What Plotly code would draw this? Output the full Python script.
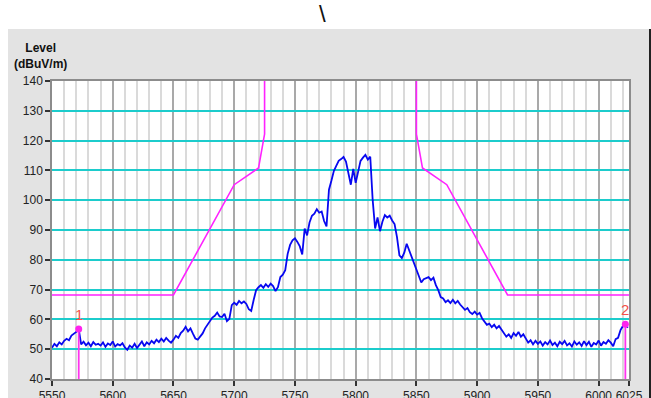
import plotly.graph_objects as go

# ---------------- data ----------------
FREQ_START = 5550
FREQ_STEP = 2
LEVEL = [
    # 5550-5568
    50.5, 51.8, 51.0, 52.3, 51.6, 52.8, 53.5, 53.0, 54.6, 55.2,
    # 5570-5588
    55.8, 56.8, 51.6, 52.5, 51.3, 52.2, 51.0, 52.4, 51.5, 51.8,
    # 5590-5608
    51.2, 52.3, 50.8, 51.9, 51.4, 52.6, 50.9, 51.7, 51.3, 52.0,
    # 5610-5628
    50.6, 49.8, 51.2, 50.5, 51.8, 50.4, 51.5, 52.6, 51.0, 52.3,
    # 5630-5648
    51.6, 52.8, 52.0, 53.2, 52.4, 53.5, 52.6, 53.8, 52.9, 52.2,
    # 5650-5668
    53.2, 54.5, 53.8, 55.4, 56.2, 57.5, 56.0, 57.0, 55.2, 53.6,
    # 5670-5688
    53.2, 54.4, 55.3, 57.0, 58.2, 59.8, 60.6, 61.2, 62.3, 61.0,
    # 5690-5708
    60.8, 61.9, 59.4, 60.2, 64.8, 65.6, 64.9, 66.2, 65.4, 66.0,
    # 5710-5728
    65.2, 63.4, 62.8, 66.5, 69.8, 70.8, 71.5, 70.6, 71.8, 70.9,
    # 5730-5748
    72.0, 71.2, 69.5, 70.8, 74.2, 75.0, 76.5, 82.0, 85.0, 86.5,
    # 5750-5768
    87.2, 86.0, 84.5, 81.8, 90.5, 88.2, 92.5, 94.8, 95.5, 97.0,
    # 5770-5788
    95.8, 96.2, 93.0, 91.2, 103.5, 106.5, 109.8, 111.5, 113.2, 113.8,
    # 5790-5808
    114.5, 113.0, 108.5, 105.2, 110.5, 105.8, 109.5, 113.2, 114.3, 115.2,
    # 5810-5828
    113.6, 114.6, 100.0, 90.5, 94.2, 89.6, 92.8, 95.0, 94.2, 94.8,
    # 5830-5848
    93.2, 92.0, 87.6, 81.5, 80.6, 82.4, 85.4, 83.2, 81.0, 79.5,
    # 5850-5868
    77.0, 75.0, 72.4, 73.5, 73.8, 74.2, 73.2, 74.0, 71.5, 69.8,
    # 5870-5888
    67.5, 67.0, 65.8, 66.4, 65.5, 66.6, 65.4, 66.2, 65.0, 64.2,
    # 5890-5908
    63.2, 63.8, 62.4, 61.8, 62.6, 61.6, 62.2, 60.4, 59.4, 58.2,
    # 5910-5928
    58.6, 57.4, 58.2, 57.0, 57.8, 56.6, 55.6, 54.2, 55.0, 53.8,
    # 5930-5948
    55.4, 54.5, 55.8, 54.2, 55.0, 53.6, 52.2, 53.0, 51.6, 52.8,
    # 5950-5968
    51.8, 52.6, 51.2, 52.4, 51.6, 52.9, 51.4, 52.2, 51.0, 52.5,
    # 5970-5988
    51.7, 52.8, 51.3, 52.0, 50.9, 52.6, 51.5, 52.3, 51.1, 52.7,
    # 5990-6008
    51.4, 52.5, 50.8, 52.1, 51.6, 52.9, 51.2, 52.4, 51.8, 53.0,
    # 6010-6024
    52.2, 51.0, 53.4, 53.8, 56.4, 57.8, 58.4, 57.2,
]
FREQ = [FREQ_START + FREQ_STEP * i for i in range(len(LEVEL))]

LIMIT_FREQ = [5550, 5650, 5700, 5720, 5725, 5725, None, 5850, 5850, 5855, 5875, 5925, 6025]
LIMIT_LEVEL = [68.2, 68.2, 105.2, 110.8, 122.2, 145, None, 145, 122.2, 110.8, 105.2, 68.2, 68.2]

MARKER_FREQ = [5572, 6022]
MARKER_LEVEL = [56.8, 58.4]
MARKER_LABELS = ["1", "2"]

X_TICKS = [5550, 5600, 5650, 5700, 5750, 5800, 5850, 5900, 5950, 6000, 6025]
Y_TICKS = [40, 50, 60, 70, 80, 90, 100, 110, 120, 130, 140]

# ---------------- layout helpers (pixel -> paper) ----------------
W, H = 651, 398
L, R, T, B = 52, 629, 81, 379


def px(x):
    return (x - L) / (R - L)


def py(y):
    return (B - y) / (B - T)


fig = go.Figure()

# limit line
fig.add_trace(go.Scatter(x=LIMIT_FREQ, y=LIMIT_LEVEL, mode="lines",
                         line=dict(color="#ff22ff", width=1.6),
                         connectgaps=False, hoverinfo="skip"))

# spectrum trace
fig.add_trace(go.Scatter(x=FREQ, y=LEVEL, mode="lines",
                         line=dict(color="#0808f0", width=1.8),
                         hoverinfo="skip"))

# markers: vertical drop lines + dots + labels
for f, lv, lab in zip(MARKER_FREQ, MARKER_LEVEL, MARKER_LABELS):
    fig.add_trace(go.Scatter(x=[f, f], y=[40, lv], mode="lines",
                             line=dict(color="#ff33ee", width=1.8),
                             hoverinfo="skip"))
    fig.add_trace(go.Scatter(x=[f], y=[lv], mode="markers",
                             marker=dict(color="#ff22ee", size=7),
                             hoverinfo="skip"))
    fig.add_annotation(x=f, y=lv + 4.8, text=lab, showarrow=False,
                       font=dict(family="Liberation Sans, Arial", size=15, color="#f5504a"))

# backgrounds
shapes = [
    # white top band
    dict(type="rect", xref="paper", yref="paper",
         x0=px(-5), x1=px(W + 5), y0=py(29), y1=py(-5),
         fillcolor="white", line=dict(width=0), layer="below"),
    # white left strip
    dict(type="rect", xref="paper", yref="paper",
         x0=px(-5), x1=px(8), y0=py(H + 5), y1=py(-5),
         fillcolor="white", line=dict(width=0), layer="below"),
    # dark right border
    dict(type="rect", xref="paper", yref="paper",
         x0=px(649), x1=px(W + 5), y0=py(H + 5), y1=py(29),
         fillcolor="#222222", line=dict(width=0), layer="below"),
]

fig.update_layout(
    width=W, height=H,
    margin=dict(l=L, r=W - R, t=T, b=H - B, pad=0, autoexpand=False),
    paper_bgcolor="#e3e3e3",
    plot_bgcolor="white",
    showlegend=False,
    shapes=shapes,
    font=dict(family="Liberation Sans, Arial", size=12, color="#222222"),
    hovermode=False,
)

fig.add_annotation(xref="paper", yref="paper", x=px(40), y=py(56),
                   text="<b>Level</b><br><b>(dBuV/m)</b>", showarrow=False,
                   xanchor="center", yanchor="middle",
                   font=dict(family="Liberation Sans, Arial", size=12, color="#111111"))

fig.add_annotation(xref="paper", yref="paper", x=px(322), y=py(14),
                   text="\\", showarrow=False, xanchor="center", yanchor="middle",
                   font=dict(family="Liberation Sans, Arial", size=24, color="#111111"))

fig.update_xaxes(
    range=[5550, 6025], tickmode="array", tickvals=X_TICKS,
    ticktext=[str(t) for t in X_TICKS],
    ticks="outside", ticklen=5, tickwidth=1.5, tickcolor="#333333",
    showgrid=True, gridcolor="#a9a9a9", gridwidth=1.5,
    minor=dict(dtick=10, tick0=5550, showgrid=True, gridcolor="#dadada", gridwidth=1.5,
               ticks=""),
    showline=True, linecolor="#8c8c8c", linewidth=1.5, mirror=True,
    zeroline=False, automargin=False, tickfont=dict(size=12, color="#222222"),
)
fig.update_yaxes(
    range=[40, 140], tickmode="array", tickvals=Y_TICKS,
    ticks="outside", ticklen=5, tickwidth=1.5, tickcolor="#333333",
    showgrid=True, gridcolor="#1ccccc", gridwidth=2,
    showline=True, linecolor="#8c8c8c", linewidth=1.5, mirror=True,
    zeroline=False, automargin=False, tickfont=dict(size=12, color="#222222"),
)

fig.write_html("out.html", config={"displayModeBar": False},
               post_script="document.body.style.margin='0';document.body.style.overflow='hidden';")
